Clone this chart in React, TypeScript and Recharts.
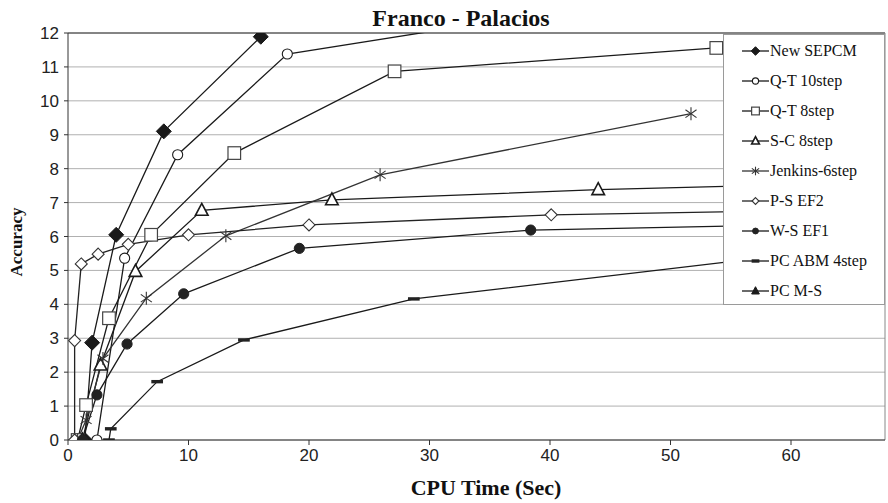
import React from 'react'
import { LineChart, Line, XAxis, YAxis, CartesianGrid, Legend, ReferenceLine } from 'recharts'

// CPU time (sec) vs accuracy
const newSepcm: [number, number][] = [[1.4, 0], [2.0, 2.87], [4.0, 6.05], [7.95, 9.1], [16.0, 11.89]]
const qt10: [number, number][] = [[2.4, 0], [4.7, 5.36], [9.1, 8.41], [18.2, 11.38], [36.4, 12.4]]
const qt8: [number, number][] = [[0.8, 0], [1.5, 1.03], [3.4, 3.59], [6.9, 6.05], [13.8, 8.46], [27.1, 10.87], [53.8, 11.56]]
const sc8: [number, number][] = [[1.2, 0], [2.7, 2.21], [5.6, 4.97], [11.1, 6.77], [21.9, 7.08], [44.0, 7.38], [65, 7.57]]
const jenkins: [number, number][] = [[0.8, 0], [1.5, 0.59], [2.9, 2.4], [6.5, 4.18], [13.1, 6.02], [25.9, 7.82], [51.7, 9.62]]
const psEf2: [number, number][] = [[0.55, 0], [0.55, 2.93], [1.1, 5.19], [2.5, 5.48], [5.0, 5.77], [10.0, 6.05], [20.0, 6.34], [40.1, 6.64], [64, 6.79]]
const wsEf1: [number, number][] = [[1.2, 0], [2.4, 1.33], [4.9, 2.83], [9.6, 4.31], [19.2, 5.65], [38.4, 6.19], [64, 6.37]]
const pcAbm: [number, number][] = [[3.4, 0], [3.55, 0.33], [7.4, 1.72], [14.6, 2.95], [28.7, 4.16], [60, 5.47]]
const pcMs: [number, number][] = []

const xTicks = [0, 10, 20, 30, 40, 50, 60]
const yTicks = [0, 1, 2, 3, 4, 5, 6, 7, 8, 9, 10, 11, 12]

type MarkerKind = 'diamondFilled' | 'circle' | 'square' | 'triangle' | 'asterisk' | 'diamond' | 'circleFilled' | 'dash' | 'triangleFilled'

const series: { name: string; points: [number, number][]; marker: MarkerKind; stroke: string }[] = [
  { name: 'New SEPCM', points: newSepcm, marker: 'diamondFilled', stroke: '#1a1a1a' },
  { name: 'Q-T 10step', points: qt10, marker: 'circle', stroke: '#1a1a1a' },
  { name: 'Q-T 8step', points: qt8, marker: 'square', stroke: '#1a1a1a' },
  { name: 'S-C 8step', points: sc8, marker: 'triangle', stroke: '#1a1a1a' },
  { name: 'Jenkins-6step', points: jenkins, marker: 'asterisk', stroke: '#333' },
  { name: 'P-S EF2', points: psEf2, marker: 'diamond', stroke: '#222' },
  { name: 'W-S EF1', points: wsEf1, marker: 'circleFilled', stroke: '#1a1a1a' },
  { name: 'PC ABM 4step', points: pcAbm, marker: 'dash', stroke: '#1a1a1a' },
  { name: 'PC M-S', points: pcMs, marker: 'triangleFilled', stroke: '#1a1a1a' },
]

const serif = '"Liberation Serif", "Times New Roman", serif'
const sans = '"Liberation Sans", Arial, sans-serif'

function Marker({ kind, cx, cy, s }: { kind: MarkerKind; cx: number; cy: number; s: number }) {
  const ink = '#1a1a1a'
  switch (kind) {
    case 'diamondFilled':
      return <polygon points={`${cx},${cy - s} ${cx + s},${cy} ${cx},${cy + s} ${cx - s},${cy}`} fill={ink} stroke={ink} />
    case 'diamond':
      return <polygon points={`${cx},${cy - s * 0.8} ${cx + s * 0.8},${cy} ${cx},${cy + s * 0.8} ${cx - s * 0.8},${cy}`} fill="#fff" stroke="#333" strokeWidth={1.1} />
    case 'circle':
      return <circle cx={cx} cy={cy} r={s * 0.72} fill="#fff" stroke={ink} strokeWidth={1.1} />
    case 'circleFilled':
      return <circle cx={cx} cy={cy} r={s * 0.68} fill="#222" stroke="#222" />
    case 'square':
      return <rect x={cx - s * 0.9} y={cy - s * 0.9} width={s * 1.8} height={s * 1.8} fill="#fff" stroke="#444" strokeWidth={1.2} />
    case 'triangle':
      return <polygon points={`${cx},${cy - s} ${cx + s * 0.9},${cy + s * 0.7} ${cx - s * 0.9},${cy + s * 0.7}`} fill="#fff" stroke={ink} strokeWidth={1.6} />
    case 'triangleFilled':
      return <polygon points={`${cx},${cy - s} ${cx + s * 0.9},${cy + s * 0.7} ${cx - s * 0.9},${cy + s * 0.7}`} fill={ink} stroke={ink} />
    case 'asterisk':
      return (
        <g stroke="#333" strokeWidth={1.1}>
          <line x1={cx} y1={cy - s} x2={cx} y2={cy + s} />
          <line x1={cx - s * 0.85} y1={cy - s * 0.6} x2={cx + s * 0.85} y2={cy + s * 0.6} />
          <line x1={cx - s * 0.85} y1={cy + s * 0.6} x2={cx + s * 0.85} y2={cy - s * 0.6} />
        </g>
      )
    case 'dash':
      return <rect x={cx - s * 0.9} y={cy - 1.7} width={s * 1.8} height={3.4} fill="#222" />
  }
  return null
}

function LegendBox() {
  return (
    <div
      style={{
        width: 162,
        height: 271,
        boxSizing: 'border-box',
        border: '1px solid #9a9a9a',
        background: '#fff',
        paddingTop: 1,
      }}
    >
      {series.map((s) => (
        <div key={s.name} style={{ height: 30, display: 'flex', alignItems: 'center' }}>
          <svg width={28} height={14} style={{ marginLeft: 18 }}>
            <line x1={0} y1={7} x2={27} y2={7} stroke={s.stroke} strokeWidth={1.3} />
            <Marker kind={s.marker} cx={13.5} cy={7} s={4.3} />
          </svg>
          <span style={{ fontFamily: serif, fontSize: 16, color: '#111', lineHeight: '16px' }}>{s.name}</span>
        </div>
      ))}
    </div>
  )
}

const sizes: Record<MarkerKind, number> = {
  diamondFilled: 7.5,
  circle: 7,
  square: 7,
  triangle: 7,
  asterisk: 6.5,
  diamond: 7.5,
  circleFilled: 7.5,
  dash: 6.5,
  triangleFilled: 7,
}

export default function App() {
  return (
    <div style={{ width: 888, height: 503, background: '#fff' }}>
      <style>{'body{margin:0;}'}</style>
      <LineChart width={888} height={503} margin={{ top: 33, right: 3, bottom: 0, left: 0 }}>
        <CartesianGrid vertical={false} stroke="#b0b0b0" strokeWidth={1} />
        <XAxis
          type="number"
          dataKey="x"
          domain={[0, 67.8]}
          ticks={xTicks}
          allowDataOverflow
          height={63}
          stroke="#333"
          tickSize={5}
          tickMargin={4}
          tick={{ fontFamily: sans, fontSize: 17, fill: '#222' }}
        />
        <YAxis
          type="number"
          domain={[0, 12]}
          ticks={yTicks}
          allowDataOverflow
          width={68}
          stroke="#333"
          tickSize={4}
          tickMargin={5}
          tick={{ fontFamily: sans, fontSize: 17, fill: '#222' }}
        />
        <ReferenceLine y={12} stroke="#333" strokeWidth={1.2} />
        <ReferenceLine x={67.8} stroke="#888" />
        {series.map((s) => (
          <Line
            key={s.name}
            name={s.name}
            data={s.points.map(([x, y]) => ({ x, y }))}
            dataKey="y"
            type="linear"
            stroke={s.stroke}
            strokeWidth={1.3}
            isAnimationActive={false}
            legendType="none"
            dot={(p: any) => (
              <Marker key={`${s.name}-${p.index}`} kind={s.marker} cx={p.cx} cy={p.cy} s={sizes[s.marker]} />
            )}
            activeDot={false}
          />
        ))}
        <Legend
          layout="horizontal"
          verticalAlign="middle"
          align="center"
          content={() => <LegendBox />}
          wrapperStyle={{ left: 723, top: 34, width: 162, height: 271 }}
        />
        <text x={461} y={26} textAnchor="middle" fontFamily={serif} fontWeight="bold" fontSize={24} fill="#111">
          Franco - Palacios
        </text>
        <text x={486} y={495} textAnchor="middle" fontFamily={serif} fontWeight="bold" fontSize={22} fill="#111">
          CPU Time (Sec)
        </text>
        <text
          x={22}
          y={242}
          textAnchor="middle"
          transform="rotate(-90 22 242)"
          fontFamily={serif}
          fontWeight="bold"
          fontSize={17}
          fill="#111"
        >
          Accuracy
        </text>
      </LineChart>
    </div>
  )
}
